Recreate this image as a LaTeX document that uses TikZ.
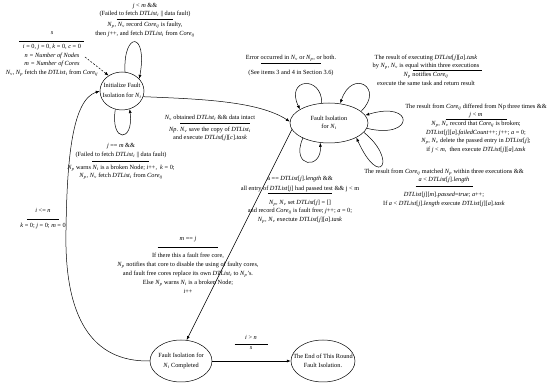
\documentclass[tikz,border=0pt]{standalone}
\usepackage{fontspec}
\setmainfont{Liberation Serif}
\usetikzlibrary{arrows.meta,shapes.geometric}
\newcommand\sbs[1]{\textsubscript{\textit{#1}}}
\newcommand\vNv{\textit{N}\sbs{v}}
\newcommand\vNp{\textit{N}\sbs{p}}
\newcommand\vNi{\textit{N}\sbs{i}}
\newcommand\vCij{\textit{Core}\sbs{ij}}
\newcommand\vDTi{\textit{DTList}\sbs{i}}
\newcommand\vDTj{\textit{DTList}[\textit{j}]}
\newcommand\lblbar[1]{\rule{#1}{0.4pt}}
\begin{document}
\begin{tikzpicture}[x=1pt,y=-1pt,line width=0.5pt,
  font=\fontsize{6.3}{8.5}\selectfont,
  st/.style={draw,ellipse,inner sep=0pt},
  sttext/.style={align=center,inner sep=0pt},
  lbl/.style={align=center,inner sep=0pt,anchor=north},
  arr/.style={-{Latex[length=4pt,width=3pt]}}]
\useasboundingbox (0,0) rectangle (550,385);

% states
\node[st,minimum width=44pt,minimum height=38pt] (I) at (122,91) {};
\node[sttext] (It) at (I) {Initialize Fault\\[1pt]Isolation for \vNi};
\node[st,minimum width=78pt,minimum height=40pt] (F) at (329,123) {};
\node[sttext] (Ft) at (F) {Fault Isolation\\for \vNi};
\node[st,minimum width=62pt,minimum height=42pt] (C) at (181,361) {};
\node[sttext] (Ct) at (C) {Fault Isolation for\\[1pt]\vNi\ Completed};
\node[st,minimum width=64pt,minimum height=42pt] (E) at (323,361) {};
\node[sttext] (Et) at (E) {The End of This Round\\[1pt]Fault Isolation.};

% labels
\node[lbl] (LS) at (52,31) {\textit{s}\\[-1pt]\lblbar{65pt}\\[-1.5pt]\textit{i} = 0, \textit{j} = 0, \textit{k} = 0, \textit{c} = 0\\\textit{n = Number of Nodes}\\\textit{m = Number of Cores}\\\vNv, \vNp\ fetch the \vDTi\ from \vCij};
\coordinate (S0) at (85,57);

\node[lbl] (LT) at (145,2.7) {\textit{j} < \textit{m} \&\&\\(Failed to fetch \vDTi\ || data fault)\\[-4.5pt]\lblbar{57pt}\\[-1.5pt]\vNp, \vNv\ record \vCij\ is faulty,\\then \textit{j}++, and fetch \vDTi\ from \vCij};

\node[lbl] (LB) at (121,143.5) {\textit{j} == \textit{m} \&\&\\(Failed to fetch \vDTi\ || data fault)\\[-3.5pt]\lblbar{57pt}\hspace*{25pt}\\[-0.5pt]\vNp\ warns \vNi\ is a broken Node; \textit{i}++, \ \textit{k} = 0;\\\vNp, \vNv\ fetch \vDTi\ from \vCij};

\node[lbl] (LIF) at (210,114.5) {\vNv\ obtained \vDTi\ \&\& data intact\\[-4.5pt]\hspace*{10pt}\lblbar{70pt}\\[-0.5pt]\textit{Np}. \vNv\ save the copy of \vDTi\\and execute \textit{DTList}[\textit{j}][\textit{c}].\textit{task}};

\node[lbl] (LE) at (291,54.5) {Error occurred in \vNv\ or \vNp, or both.\\[-4.5pt]\lblbar{60pt}\\[2.5pt](See items 3 and 4 in Section 3.6)};

\node[lbl] (LTR) at (426,54.5) {The result of executing \textit{DTList}[\textit{j}][\textit{a}].\textit{task}\\by \vNp, \vNv\ is equal within three executions\\[-6pt]\hspace*{43pt}\lblbar{69pt}\\[-2pt]\vNp\ notifies \vCij\\execute the same task and return result};

\node[lbl] (LR) at (476,103.5) {The result from \vCij\ differed from Np three times \&\&\\\textit{j} < \textit{m}\\[-6pt]\lblbar{61pt}\\[-2pt]\vNp, \vNv\ record that \vCij\ is broken;\\\textit{DTList}[\textit{j}][\textit{a}].\textit{failedCount}++; \textit{j}++; \textit{a} = 0;\\\vNp, \vNv\ delete the passed entry in \vDTj;\\if \textit{j} < \textit{m}, \ then execute \textit{DTList}[\textit{j}][\textit{a}].\textit{task}};

\node[lbl] (LBR) at (444,168.5) {The result from \vCij\ matched \vNp\ within three executions \&\&\\\textit{a} < \vDTj.\textit{length}\\[-3.5pt]\lblbar{57pt}\\[1.5pt]\textit{DTList}[\textit{j}][\textit{m}].\textit{passed}=\textit{true}; \textit{a}++;\\If \textit{a} < \vDTj.\textit{length} execute \textit{DTList}[\textit{j}][\textit{a}].\textit{task}};

\node[lbl] (LA) at (300,175.7) {a == \vDTj.\textit{length} \&\&\\[1.5pt]all entry of \vDTj\ had passed test \&\& j < m\\[-5.5pt]\lblbar{64pt}\\[2.5pt]\vNp, \vNv\ set \vDTj\ = []\\and record \vCij\ is fault free; \textit{j}++; \textit{a} = 0;\\\vNp, \vNv\ exectute \textit{DTList}[\textit{j}][\textit{a}].\textit{task}};

\node[lbl] (LC) at (188,236.5) {\textit{m} == \textit{j}\\[-2.5pt]\lblbar{61pt}\\[2.5pt]If there this a fault free core,\\[0.5pt]\vNp\ notifies that core to disable the using of faulty cores,\\[0.5pt]and fault free cores replace its own \vDTi\ to \vNp's.\\[0.5pt]Else \vNp\ warns \vNi\ is a broken Node;\\[0.5pt]\textit{i}++};

\node[lbl] (LL) at (43,208.5) {\textit{i} <= \textit{n}\\[-2.5pt]\lblbar{32pt}\\[0.5pt]\textit{k} = 0; \textit{j} = 0; \textit{m} = 0};

\node[lbl] (LEnd) at (251,335.5) {\textit{i} > \textit{n}\\[-4.5pt]\lblbar{33pt}\\[-2.5pt]\textit{s}};

% transitions
\draw[arr,dash pattern=on 2pt off 1.5pt] (S0) -- (I.131);
\draw[arr] (I.81) .. controls (123,31) and (148,31) .. (I.35);
\draw[arr] (I.250) .. controls (110,143) and (134,143) .. (I.293);
\draw[arr] (I.-15) .. controls (200,99) and (258,101) .. (F.178);
\draw[arr] (C.west) .. controls (92,362) and (64,318) .. (66,230)
  .. controls (67,160) and (72,100) .. (I.west);
\draw[arr] (F.190) -- (C.75);
\draw[arr] (F.110) .. controls (322,75) and (285,78) .. (F.155);
\draw[arr] (F.20) .. controls (385,88) and (352,68) .. (F.60);
\draw[arr] (F.-8) .. controls (415,140) and (415,100) .. (F.12);
\draw[arr] (F.-15) .. controls (398,160) and (380,190) .. (F.-28);
\draw[arr] (F.210) .. controls (290,168) and (322,170) .. (F.246);
\draw[arr] (C) -- (E);
\end{tikzpicture}
\end{document}
